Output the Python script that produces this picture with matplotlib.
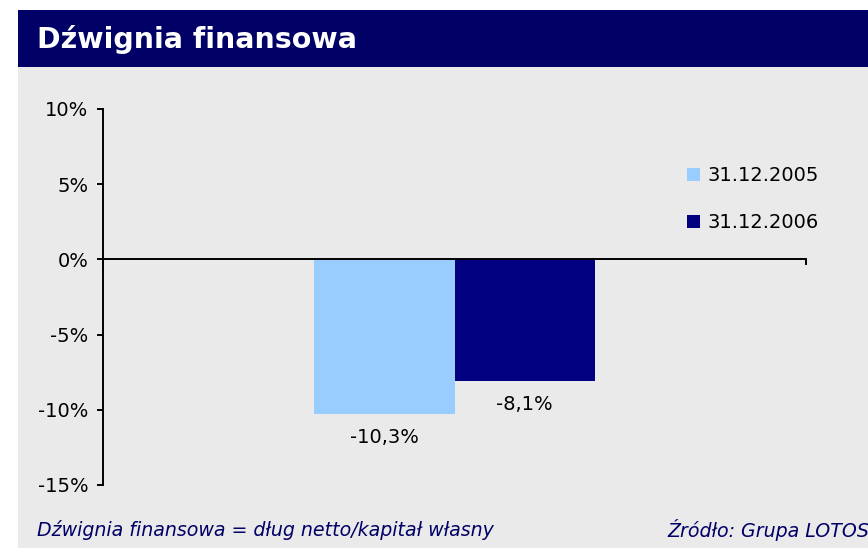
import matplotlib
matplotlib.use("Agg")
import matplotlib.pyplot as plt
from matplotlib.patches import Rectangle, Patch

title = "Dźwignia finansowa"
categories = [""]
series_names = ["31.12.2005", "31.12.2006"]
series_values = [-10.3, -8.1]
series_labels = ["-10,3%", "-8,1%"]
series_colors = ["#99CCFF", "#000080"]
yticks = [-15, -10, -5, 0, 5, 10]
ytick_labels = ["-15%", "-10%", "-5%", "0%", "5%", "10%"]
footnote_left = "Dźwignia finansowa = dług netto/kapitał własny"
footnote_right = "Źródło: Grupa LOTOS"

plt.rcParams["font.family"] = ["DejaVu Sans"]
W, H = 868, 548
fig = plt.figure(figsize=(W / 100, H / 100), dpi=100, facecolor="white")

def fx(px):
    return px / W

def fy(py):
    return 1 - py / H

# background panels
fig.patches.append(Rectangle((fx(18), 0), 1 - fx(18), fy(67), transform=fig.transFigure,
                             facecolor="#EAEAEA", edgecolor="none", zorder=-10))
fig.patches.append(Rectangle((fx(18), fy(67)), 1 - fx(18), fy(10) - fy(67), transform=fig.transFigure,
                             facecolor="#000066", edgecolor="none", zorder=-10))
fig.text(fx(37), fy(39), title, color="white", fontsize=20.5, fontweight="bold",
         va="center", ha="left")

ax = fig.add_axes([fx(103), fy(485), fx(806) - fx(103), fy(109) - fy(485)])
ax.set_zorder(5)
ax.set_facecolor("none")
ax.set_xlim(-0.5, 0.5)
ax.set_ylim(-15, 10)

bw = 0.2
offsets = [-bw / 2, bw / 2]
for i, (name, val, lab, col) in enumerate(zip(series_names, series_values, series_labels, series_colors)):
    x = offsets[i]
    ax.bar([x], [val], width=bw, color=col, edgecolor="none", zorder=2, label=name)
    ax.annotate(lab, xy=(x, val), xytext=(0, -14), textcoords="offset pixels",
                ha="center", va="top", fontsize=14, color="black")

for s in ["top", "right"]:
    ax.spines[s].set_visible(False)
ax.spines["bottom"].set_position(("data", 0))
ax.spines["left"].set_linewidth(1.4)
ax.spines["bottom"].set_linewidth(1.4)
ax.set_yticks(yticks)
ax.set_yticklabels(ytick_labels, fontsize=14)
ax.set_xticks([-0.5, 0.5])
ax.set_xticklabels(["", ""])
ax.tick_params(axis="y", direction="out", length=4.5, width=1.4, pad=6)
ax.tick_params(axis="x", direction="out", length=4.5, width=1.4)

handles = [Patch(facecolor=c, edgecolor="none") for c in series_colors]
fig.legend(handles, series_names, loc="upper left", bbox_to_anchor=(fx(687), fy(166)),
           frameon=False, fontsize=14, handlelength=0.65, handleheight=0.65,
           handletextpad=0.4, labelspacing=1.45, borderaxespad=0, borderpad=0)

fig.text(fx(37), fy(530), footnote_left, color="#000066", fontsize=13.7, style="italic",
         va="center", ha="left")
fig.text(fx(667), fy(530), footnote_right, color="#000066", fontsize=13.7, style="italic",
         va="center", ha="left")

fig.savefig("out.png", dpi=100, facecolor="white")
